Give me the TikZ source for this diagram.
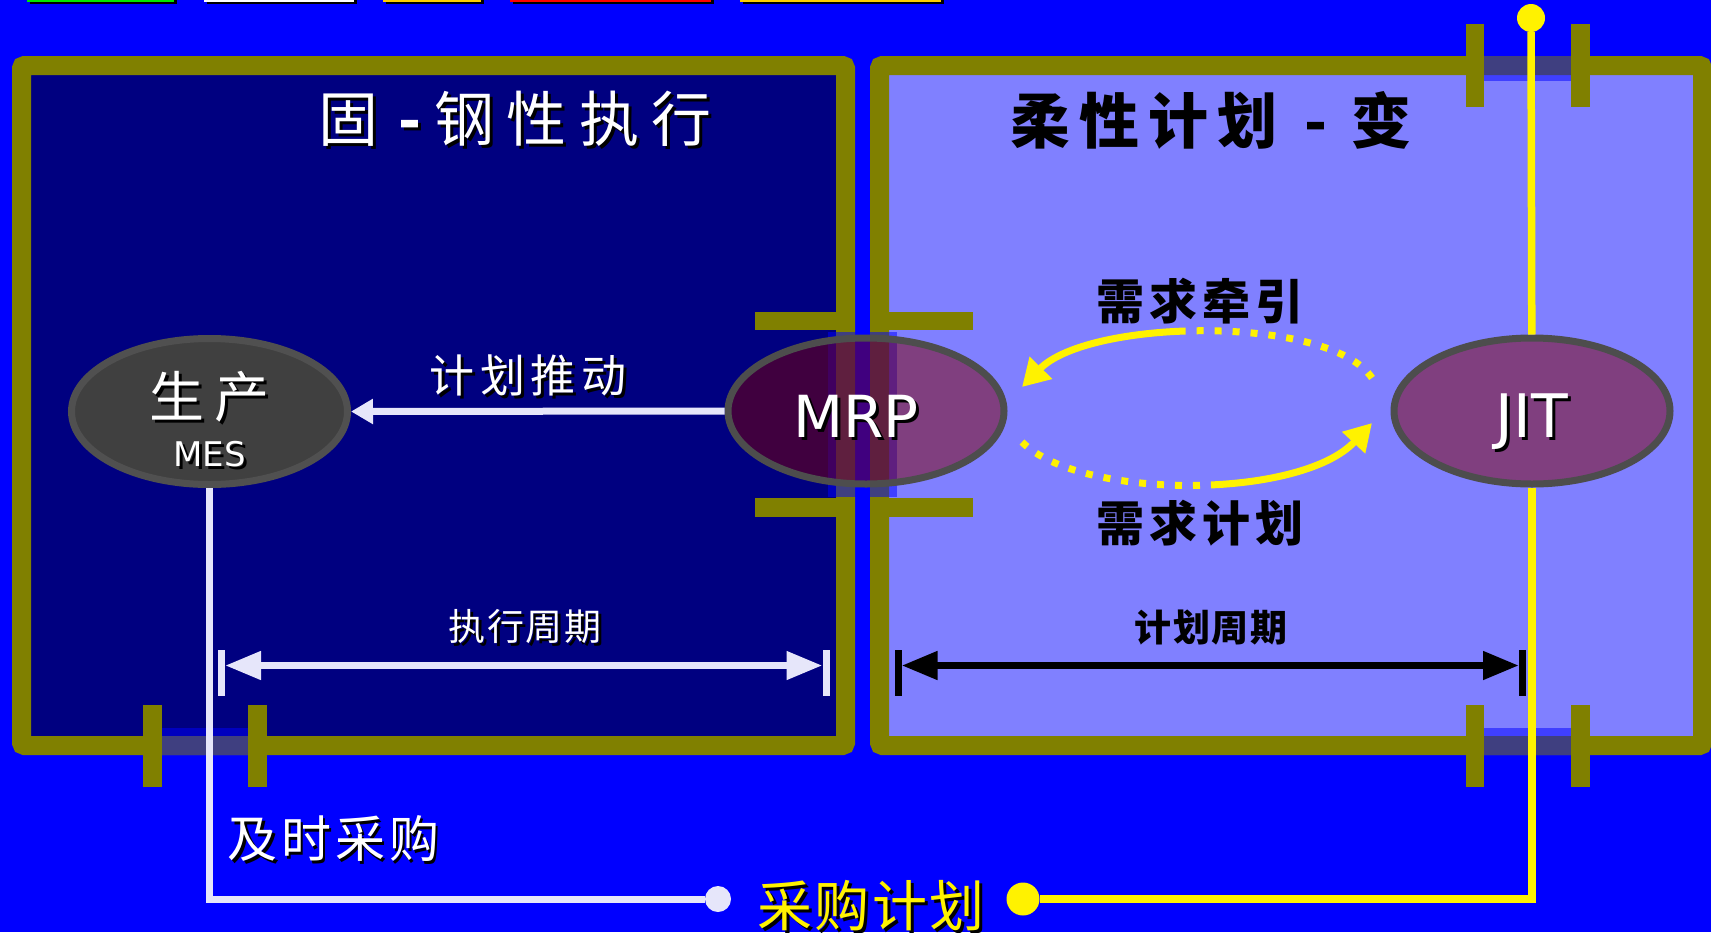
\documentclass[tikz,border=0pt]{standalone}
\usepackage{fontspec}
\setmainfont{DejaVu Sans}
\newfontfamily\cjk{Noto Sans CJK SC}
\usepackage{tikz}
\usetikzlibrary{shapes.geometric,arrows.meta}
\definecolor{bgblue}{RGB}{0,0,255}
\definecolor{navybox}{RGB}{0,0,128}
\definecolor{lightbox}{RGB}{128,128,255}
\definecolor{wallc}{RGB}{128,128,0}
\definecolor{ringc}{RGB}{77,77,77}
\definecolor{mesc}{RGB}{64,64,64}
\definecolor{ovalc}{RGB}{128,0,0}
\definecolor{lav}{RGB}{230,230,250}
\definecolor{goldc}{RGB}{255,204,0}
\definecolor{greenc}{RGB}{0,230,0}
\newcommand\shadowtxt[2]{\rlap{\kern3pt\raisebox{-3pt}{\color{black}#2}}{\color{#1}#2}}
\tikzstyle{oval}=[ellipse,draw=ringc,line width=7pt,minimum width=276pt,minimum height=146pt,inner sep=0pt]

\begin{document}
\begin{tikzpicture}[x=1pt,y=-1pt]
    \tikzstyle{wall}=[draw=wallc,line width=19pt,rounded corners=3pt]
    \tikzstyle{tick}=[wallc,line width=18.5pt]
    \tikzstyle{door}=[fill=bgblue,fill opacity=.5]
    \tikzstyle{lbl}=[inner sep=0pt]
    \tikzstyle{dot}=[circle,inner sep=0pt]
    \tikzstyle{span}=[line width=7.5pt,{Triangle[length=36pt,width=27pt]}-{Triangle[length=36pt,width=27pt]}]
    \tikzstyle{flow}=[yellow,line width=7pt,-{Triangle[length=27pt,width=30pt]},
      dash pattern=on 7pt off 11pt on 7pt off 11pt on 7pt off 11pt on 7pt off 11pt on 7pt off 11pt on 7pt off 11pt on 7pt off 11pt on 7pt off 11pt on 7pt off 11pt on 7pt off 11pt on 7pt off 11pt on 700pt off 1pt]
    \fill[bgblue] (0,0) rectangle (1711,932);
    \useasboundingbox (0,0) rectangle (1711,932);
    % cut strips at the top edge
    \foreach \xa/\xb/\c in {27/174/greenc,204/354/white,383/481/goldc,510/711/red,740/941/goldc}{
      \fill[black] (\xa+3,0) rectangle (\xb+3,3.5);
      \fill[\c] (\xa,0) rectangle (\xb,2);
    }
    % the two rooms
    \draw[wall,fill=navybox] (21.5,65.5) rectangle (845.5,745.5);
    \draw[wall,fill=lightbox] (879.5,65.5) rectangle (1702.5,745.5);
    \foreach \x in {1475,1580.5}{
      \draw[tick] (\x,24) -- (\x,107);
      \draw[tick] (\x,705) -- (\x,787);
    }
    \foreach \x in {152.5,257.5}
      \draw[tick] (\x,705) -- (\x,787);
    \foreach \y in {321,507.5}{
      \draw[tick] (755,\y) -- (846,\y);
      \draw[tick] (879,\y) -- (973,\y);
    }
    \fill[door] (1484,56) rectangle (1571,81);
    \fill[door] (1484,728) rectangle (1571,755);
    \fill[door] (162,728) rectangle (248,755);
    \fill[door] (828,332) rectangle (897,497);
    % dots and nodes
    \node[dot,fill=yellow,minimum size=28pt] (ytop) at (1531,18) {};
    \node[dot,fill=yellow,minimum size=33pt] (ydot) at (1023,899) {};
    \node[dot,fill=lav,minimum size=26pt] (wdot) at (718,899) {};
    \node[oval,fill=mesc,draw={rgb,255:red,80;green,80;blue,80}] (mes) at (209.5,411.5) {};
    \node[oval,fill=ovalc,fill opacity=.5,text opacity=1,text height=52pt,text depth=0pt] (mrp) at (866,411)
      {\fontsize{58}{58}\selectfont\shadowtxt{white}{MRP}\kern20pt};
    \node[oval,fill=ovalc,fill opacity=.5,text opacity=1,text height=52pt,text depth=0pt] (jit) at (1532,411)
      {\fontsize{60}{60}\selectfont\shadowtxt{white}{JIT}};
    \node[lbl] (mescn) at (209.5,398) {\fontsize{55}{55}\cjk\addfontfeature{LetterSpace=18}\shadowtxt{white}{生产}};
    \node[lbl] (mesen) at (209.5,456) {\fontsize{34}{34}\selectfont\shadowtxt{white}{MES}};
    % connectors
    \draw[yellow,line width=7.5pt] (ytop) -- (jit);
    \draw[yellow,line width=7.5pt] (jit) |- (ydot);
    \draw[lav,line width=7pt] (mes) |- (wdot);
    \draw[lav,line width=7pt,-{Triangle[length=22pt,width=24pt]}] (mrp.west) -- (mes.east);
    \coordinate (pullA) at (1372,378);
    \coordinate (pullB) at (1022,387);
    \coordinate (planA) at (1022,442);
    \coordinate (planB) at (1372,423);
    \draw[flow] (pullA) .. controls (1330,315) and (1090,318) .. (pullB);
    \draw[flow] (planA) .. controls (1080,500) and (1300,500) .. (planB);
    % cycle spans
    \coordinate (execA) at (225,665.5);
    \coordinate (execB) at (822.5,665.5);
    \draw[lav,line width=7pt] (221.5,650) -- (221.5,696) (826,650) -- (826,696);
    \draw[span,lav] (execA) -- (execB);
    \coordinate (planpA) at (901.5,665.5);
    \coordinate (planpB) at (1519,665.5);
    \draw[black,line width=7pt] (898,650) -- (898,696) (1522.5,650) -- (1522.5,696);
    \draw[span,black] (planpA) -- (planpB);
    % labels
    \node[lbl] (titleL) at (515,120) {\fontsize{60}{60}\cjk\addfontfeature{LetterSpace=21}\shadowtxt{white}{固\kern20pt{\bfseries -}\kern13pt钢性执行}};
    \node[lbl] (titleR) at (1211,120) {\fontsize{60}{60}\cjk\bfseries\addfontfeature{LetterSpace=15}柔性计划\kern28pt-\kern24pt变};
    \node[lbl] (push) at (528,377) {\fontsize{45}{45}\cjk\addfontfeature{LetterSpace=13}\shadowtxt{white}{计划推动}};
    \node[lbl] (pull) at (1200,301) {\fontsize{48}{48}\cjk\bfseries\addfontfeature{LetterSpace=10}需求牵引};
    \node[lbl] (plan) at (1200,523) {\fontsize{48}{48}\cjk\bfseries\addfontfeature{LetterSpace=10}需求计划};
    \node[lbl] (execp) at (525,628) {\fontsize{37}{37}\cjk\addfontfeature{LetterSpace=4}\shadowtxt{white}{执行周期}};
    \node[lbl] (planp) at (1211,628) {\fontsize{37}{37}\cjk\bfseries\addfontfeature{LetterSpace=4}计划周期};
    \node[lbl] (jitbuy) at (333,840) {\fontsize{50}{50}\cjk\addfontfeature{LetterSpace=8}\shadowtxt{white}{及时采购}};
    \node[lbl] (buyplan) at (871,907) {\fontsize{55}{55}\cjk\addfontfeature{LetterSpace=4}\shadowtxt{yellow}{采购计划}};
\end{tikzpicture}
\end{document}
